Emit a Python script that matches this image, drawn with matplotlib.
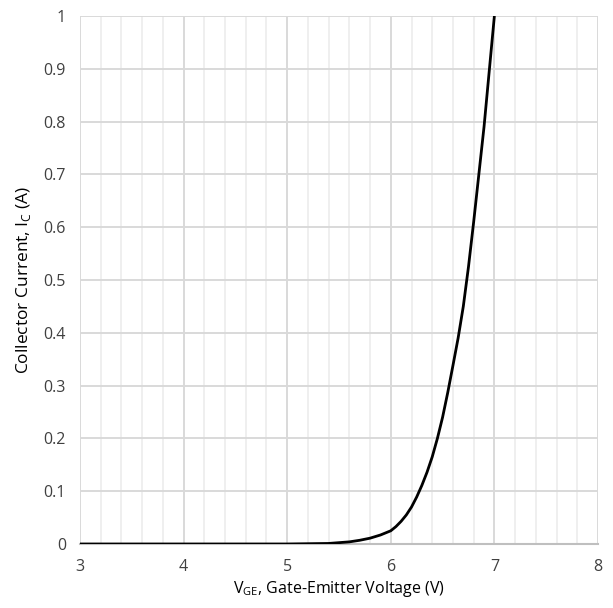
import matplotlib
matplotlib.use('Agg')
from matplotlib import pyplot as plt
import numpy as np

# transfer characteristic
vge = [3.0, 5.0, 5.4, 5.6, 5.7, 5.8, 5.9, 6.0, 6.05, 6.1, 6.15, 6.2, 6.25, 6.3, 6.35,
       6.4, 6.45, 6.5, 6.55, 6.6, 6.65, 6.7, 6.75, 6.8, 6.85, 6.9, 6.95, 7.0]
ic = [0.0, 0.0, 0.001, 0.004, 0.007, 0.011, 0.017, 0.025, 0.033, 0.043, 0.055, 0.07,
      0.089, 0.111, 0.136, 0.165, 0.20, 0.24, 0.287, 0.338, 0.39, 0.45, 0.525, 0.61,
      0.70, 0.79, 0.895, 1.0]

x_ticks = [3, 4, 5, 6, 7, 8]
y_ticks = [0, 0.1, 0.2, 0.3, 0.4, 0.5, 0.6, 0.7, 0.8, 0.9, 1]
y_labels = ['0', '0.1', '0.2', '0.3', '0.4', '0.5', '0.6', '0.7', '0.8', '0.9', '1']

plt.rcParams['font.family'] = ['Open Sans', 'DejaVu Sans']

fig = plt.figure(figsize=(6.13, 6.08), dpi=100)
ax = fig.add_axes([0.1305, 0.1053, 0.845, 0.8684])

ax.plot(vge, ic, color='black', lw=2, zorder=3, solid_capstyle='butt',
        solid_joinstyle='round')

ax.set_xlim(3, 8)
ax.set_ylim(0, 1)
ax.set_xticks(x_ticks)
ax.set_xticks(np.arange(3, 8.01, 0.2), minor=True)
ax.set_yticks(y_ticks)
ax.set_yticklabels(y_labels)

ax.grid(which='major', color='#d9d9d9', lw=1.4)
ax.grid(which='minor', axis='x', color='#ececec', lw=1.2)
ax.set_axisbelow(True)

for s in ['top', 'right', 'left']:
    ax.spines[s].set_visible(False)
ax.spines['bottom'].set_color('#bfbfbf')
ax.spines['bottom'].set_linewidth(1.5)

ax.tick_params(which='both', length=0, labelsize=11.5, colors='#404040')
ax.tick_params(axis='x', pad=11)
ax.tick_params(axis='y', pad=10)

ax.set_xlabel('V$_{\\mathregular{GE}}$, Gate-Emitter Voltage (V)', fontsize=11.5, color='black')
ax.set_ylabel('Collector Current, I$_{\\mathregular{C}}$ (A)', fontsize=12.5, color='black')
ax.yaxis.set_label_coords(-0.09, 0.5)
ax.xaxis.set_label_coords(0.5, -0.067)

fig.savefig('out.png', dpi=100)
